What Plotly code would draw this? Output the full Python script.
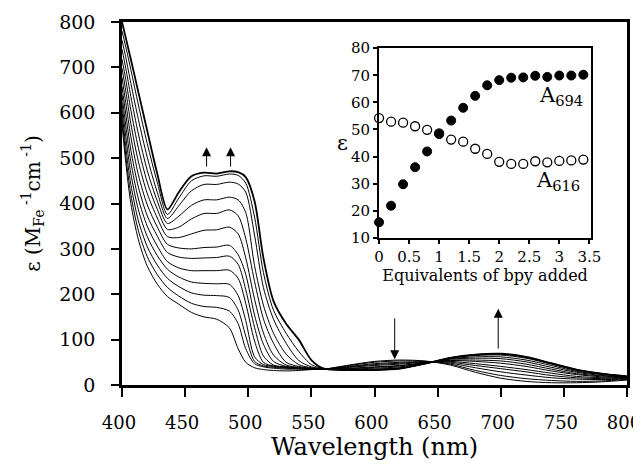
import plotly.graph_objects as go

# ---------------- data ----------------
WAVELENGTH = [400, 403, 407, 413, 420, 428, 436, 445, 455, 465, 475, 485, 492, 498,
              505, 512, 520, 530, 540, 550, 560, 580, 600, 620, 640, 660, 680, 700,
              720, 740, 760, 780, 800]

spec_01 = [575, 490, 400, 320, 262, 222, 195, 178, 160, 150, 145, 126, 80, 50, 38, 34, 32, 31, 32, 34, 35,
           44, 52, 55, 53, 44, 28, 15, 8, 5, 5, 7, 11]
spec_02 = [590, 505, 420, 340, 283, 243, 215, 196, 180, 173, 171, 163, 135, 80, 47, 40, 37, 35, 35, 35, 35,
           43, 50, 53, 52, 46, 32, 21, 14, 10, 8, 9, 12]
spec_03 = [605, 525, 442, 362, 305, 264, 235, 217, 203, 198, 197, 193, 165, 108, 52, 42, 39, 37, 36, 35, 35,
           41, 47, 50, 51, 48, 38, 29, 22, 16, 13, 12, 13]
spec_04 = [622, 548, 466, 386, 327, 285, 255, 238, 227, 224, 223, 222, 197, 142, 62, 45, 41, 38, 36, 35, 35,
           40, 45, 48, 51, 50, 43, 36, 29, 21, 16, 14, 14]
spec_05 = [640, 572, 492, 410, 350, 306, 272, 258, 252, 252, 252, 253, 235, 180, 97, 50, 42, 39, 37, 35, 35,
           39, 43, 46, 50, 52, 47, 41, 34, 26, 19, 16, 15]
spec_06 = [658, 597, 518, 436, 373, 328, 292, 282, 279, 280, 281, 284, 266, 210, 127, 64, 44, 40, 37, 35, 35,
           37, 40, 43, 49, 54, 52, 48, 41, 31, 23, 18, 16]
spec_07 = [678, 622, 547, 463, 397, 348, 310, 302, 300, 303, 304, 308, 287, 244, 154, 90, 52, 41, 38, 36, 35,
           36, 39, 42, 49, 55, 55, 53, 46, 35, 25, 20, 17]
spec_08 = [698, 648, 576, 492, 422, 368, 327, 325, 333, 341, 342, 348, 333, 280, 189, 115, 66, 44, 39, 36, 35,
           35, 37, 40, 48, 57, 59, 58, 51, 39, 28, 21, 17]
spec_09 = [718, 673, 606, 522, 447, 387, 343, 348, 366, 378, 378, 386, 373, 323, 228, 146, 92, 50, 41, 37, 35,
           34, 35, 38, 48, 58, 62, 62, 55, 43, 30, 23, 18]
spec_10 = [740, 698, 636, 553, 473, 405, 356, 372, 396, 408, 408, 414, 408, 380, 263, 176, 114, 68, 45, 38, 35,
           34, 34, 37, 47, 59, 65, 66, 59, 46, 32, 24, 19]
spec_11 = [760, 722, 665, 585, 502, 424, 367, 395, 428, 442, 442, 447, 443, 425, 330, 215, 145, 92, 54, 40, 36,
           33, 33, 36, 47, 60, 66, 68, 61, 47, 33, 25, 19]
spec_12 = [780, 745, 695, 617, 532, 446, 376, 412, 450, 461, 460, 465, 462, 445, 370, 248, 165, 114, 74, 45, 36,
           33, 33, 36, 47, 60, 67, 69, 62, 48, 34, 25, 19]
spec_13 = [800, 765, 718, 645, 560, 465, 387, 425, 460, 468, 466, 471, 469, 458, 405, 280, 185, 135, 100, 55, 36,
           33, 33, 36, 47, 60, 67, 69, 62, 48, 34, 25, 19]

X_TICKS = [400, 450, 500, 550, 600, 650, 700, 750, 800]
Y_TICKS = [0, 100, 200, 300, 400, 500, 600, 700, 800]

# inset titration data
EQUIV = [0, 0.2, 0.4, 0.6, 0.8, 1.0, 1.2, 1.4, 1.6, 1.8, 2.0, 2.2, 2.4, 2.6, 2.8, 3.0, 3.2, 3.4]
A694 = [15.8, 21.9, 29.8, 36.1, 41.9, 48.3, 53.3, 58.0, 62.4, 66.3, 68.2, 69.1, 69.2, 69.8, 69.4, 69.9, 69.9, 70.2]
A616 = [54.2, 52.9, 52.5, 51.2, 49.9, 48.6, 46.3, 45.5, 42.9, 41.0, 38.1, 37.3, 37.3, 38.3, 37.9, 38.4, 38.6, 38.9]
INSET_X_TICKS = [0, 0.5, 1, 1.5, 2, 2.5, 3, 3.5]
INSET_X_LABELS = ["0", "0.5", "1", "1.5", "2", "2.5", "3", "3.5"]
INSET_Y_TICKS = [10, 20, 30, 40, 50, 60, 70, 80]

SPECTRA = [spec_01, spec_02, spec_03, spec_04, spec_05, spec_06, spec_07,
           spec_08, spec_09, spec_10, spec_11, spec_12, spec_13]

FONT = "DejaVu Serif"

fig = go.Figure()
for i, s in enumerate(SPECTRA):
    fig.add_trace(go.Scatter(
        x=WAVELENGTH, y=s, mode="lines", xaxis="x", yaxis="y",
        line=dict(color="black", width=1.8 if i == len(SPECTRA) - 1 else 1.0,
                  shape="spline", smoothing=0.8),
        showlegend=False, hoverinfo="skip"))

fig.add_trace(go.Scatter(
    x=EQUIV, y=A616, mode="markers", xaxis="x2", yaxis="y2",
    marker=dict(symbol="circle", size=9, color="white", line=dict(color="black", width=1.3)),
    showlegend=False, cliponaxis=False))
fig.add_trace(go.Scatter(
    x=EQUIV, y=A694, mode="markers", xaxis="x2", yaxis="y2",
    marker=dict(symbol="circle", size=9, color="black", line=dict(color="black", width=1)),
    showlegend=False, cliponaxis=False))

axis_common = dict(showline=True, linecolor="black", mirror=True, showgrid=False,
                   zeroline=False, ticks="outside", tickcolor="black", automargin=False)

# the page body adds an 8 px offset, so margins compensate for it
fig.update_layout(
    width=641, height=471,
    margin=dict(l=114, r=22, t=14, b=94),
    plot_bgcolor="white", paper_bgcolor="white",
    font=dict(family=FONT, color="black"),
    xaxis=dict(axis_common, range=[400, 800], tickvals=X_TICKS, ticklen=9, tickwidth=2,
               linewidth=2.5, tickfont=dict(size=18), ticklabelstandoff=11, ticklabelshift=-3,
               title=dict(text="Wavelength (nm)", font=dict(size=24), standoff=2)),
    yaxis=dict(axis_common, range=[0, 800], tickvals=Y_TICKS, ticklen=8, tickwidth=2,
               linewidth=2.5, tickfont=dict(size=19), ticklabelstandoff=12,
               title=dict(text="ε (M<sub>Fe</sub><sup> -1</sup>cm<sup> -1</sup>)",
                          font=dict(size=20), standoff=14)),
    xaxis2=dict(axis_common, domain=[0.509, 0.929], anchor="y2", range=[0, 3.53],
                tickvals=INSET_X_TICKS, ticktext=INSET_X_LABELS, ticklen=4, tickwidth=1.5,
                linewidth=2, tickfont=dict(size=15),
                title=dict(text="Equivalents of bpy added", font=dict(size=16), standoff=3)),
    yaxis2=dict(axis_common, domain=[0.405, 0.928], anchor="x2", range=[10, 80],
                tickvals=INSET_Y_TICKS, ticklen=4, tickwidth=1.5, linewidth=2,
                tickfont=dict(size=15)),
)

# inset y-axis label, tucked beside the tick labels as in the original
fig.add_annotation(x=(342 - 122) / 505, y=(385 - 143) / 363, xref="paper", yref="paper",
                   text="ε", showarrow=False, font=dict(size=21, family=FONT),
                   xanchor="center", yanchor="middle")

arrows = [(467, 478, 467, 524), (486, 478, 486, 524), (616, 150, 616, 57), (698, 77, 698, 168)]
for ax_, ay_, x_, y_ in arrows:
    fig.add_annotation(x=x_, y=y_, ax=ax_, ay=ay_, xref="x", yref="y", axref="x", ayref="y",
                       text="", showarrow=True, arrowhead=2, arrowsize=1.8, arrowwidth=1,
                       arrowcolor="black")

fig.add_annotation(x=3.02, y=62.5, xref="x2", yref="y2", text="A<sub>694</sub>",
                   showarrow=False, font=dict(size=21, family=FONT))
fig.add_annotation(x=2.98, y=31.0, xref="x2", yref="y2", text="A<sub>616</sub>",
                   showarrow=False, font=dict(size=21, family=FONT))

fig.write_html("out.html")
